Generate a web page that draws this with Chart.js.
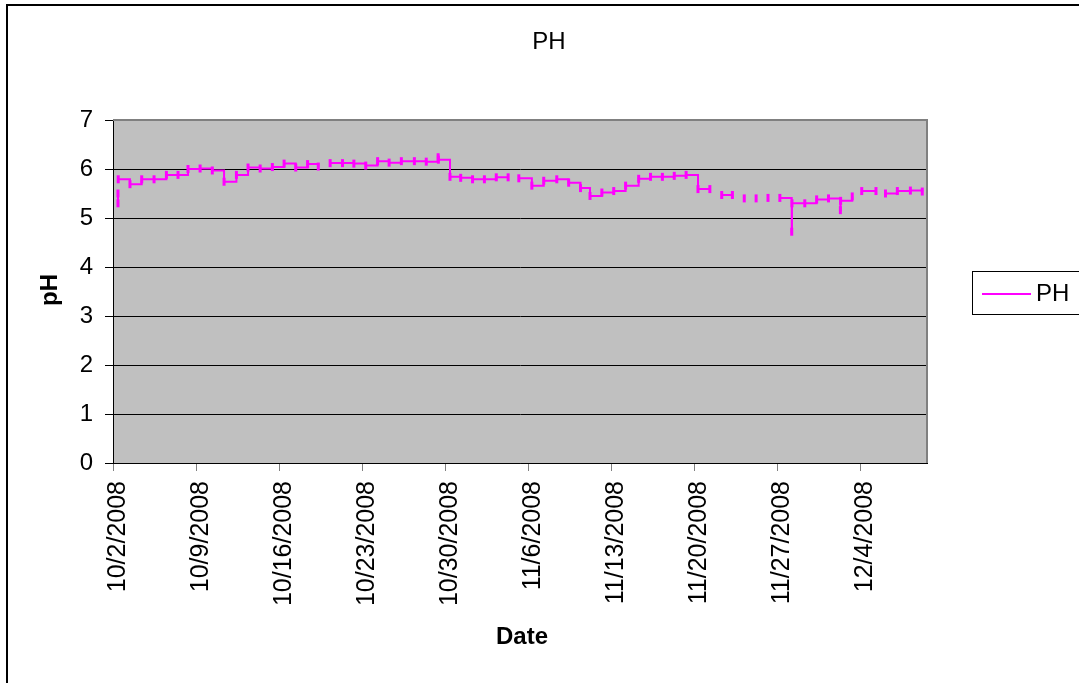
<!DOCTYPE html>
<html>
<head>
<meta charset="utf-8">
<title>PH</title>
<script src="https://cdn.jsdelivr.net/npm/chart.js@4"></script>
<style>
  html, body { margin:0; padding:0; background:#fff; }
  #wrap { position:relative; width:1079px; height:683px; overflow:hidden; }
  canvas { position:absolute; left:0; top:0; }
</style>
</head>
<body>
<div id="wrap"><canvas id="ch" width="1079" height="683"></canvas></div>
<script>
// readings: day offset from 10/2/2008, pH (null = gap in record)
const days = [0.42, 0.42, 0.43, 0.44, 1.43, 2.42, 3.46, 4.50, 5.48, 6.32, 7.34, 8.37, 9.36, 10.40, 11.38, 12.40, 13.43,
  14.42, 15.40, 16.40, 17.30, 17.35, 18.30, 19.34, 20.30, 21.30, 22.30, 23.27, 24.30, 25.40, 26.40, 27.40, 27.42,
  28.40, 29.30, 30.30, 31.30, 32.30, 33.30, 33.35, 34.20, 35.30, 36.30, 37.40, 38.40, 39.40, 40.20, 41.20, 42.20,
  43.20, 44.30, 45.30, 46.30, 47.30, 48.30, 49.30, 50.30, 50.35, 51.30, 52.20, 52.25, 53.20, 53.25, 54.20, 54.25,
  55.20, 55.25, 56.20, 57.20, 57.22, 58.30, 59.30, 60.30, 61.30, 61.32, 62.30, 62.35, 63.10, 64.30, 64.35,
  65.10, 66.10, 67.20, 68.20];
const ph = [5.50, 5.30, null, 5.79, 5.69, 5.79, 5.79, 5.88, 5.88, 6.00, 6.01, 5.97, 5.74, 5.88, 6.03, 6.01, 6.04,
  6.11, 6.03, 6.10, 6.05, null, 6.12, 6.12, 6.11, 6.07, 6.16, 6.13, 6.16, 6.16, 6.15, 6.24, 6.19,
  5.84, 5.82, 5.79, 5.79, 5.83, 5.83, null, 5.81, 5.66, 5.76, 5.79, 5.72, 5.61, 5.45, 5.52, 5.55,
  5.66, 5.80, 5.84, 5.84, 5.86, 5.88, 5.59, 5.59, null, 5.47, 5.47, null, 5.40, null, 5.40, null,
  5.41, null, 5.41, 4.72, 5.30, 5.30, 5.38, 5.40, 5.16, 5.35, 5.44, null, 5.55, 5.55, null,
  5.50, 5.55, 5.56, 5.54];

const tickDays = [0, 7, 14, 21, 28, 35, 42, 49, 56, 63];
const tickLabels = ['10/2/2008', '10/9/2008', '10/16/2008', '10/23/2008', '10/30/2008',
  '11/6/2008', '11/13/2008', '11/20/2008', '11/27/2008', '12/4/2008'];
const yTicks = [0, 1, 2, 3, 4, 5, 6, 7];

const FONT = '"Liberation Sans", Arial, sans-serif';

// plot frame, titles, legend and outer border (Excel look)
const frame = {
  id:'frame',
  beforeDraw(chart){
    const {ctx, chartArea:a} = chart;
    ctx.save();
    ctx.fillStyle = '#c0c0c0';
    ctx.fillRect(a.left, a.top, a.right-a.left, a.bottom-a.top);
    ctx.restore();
  },
  afterDraw(chart){
    const {ctx, chartArea:a} = chart;
    ctx.save();
    ctx.strokeStyle = '#808080'; ctx.lineWidth = 2;
    ctx.beginPath();
    ctx.moveTo(a.left, a.top); ctx.lineTo(a.right, a.top); ctx.lineTo(a.right, a.bottom);
    ctx.stroke();

    ctx.fillStyle = '#000'; ctx.textAlign = 'center'; ctx.textBaseline = 'middle';
    ctx.font = '24px ' + FONT;
    ctx.fillText('PH', 549, 42);
    ctx.font = 'bold 24px ' + FONT;
    ctx.fillText('Date', 522, 637);
    ctx.translate(50, 290); ctx.rotate(-Math.PI/2);
    ctx.fillText('pH', 0, 0);
    ctx.setTransform(1,0,0,1,0,0);

    // legend
    ctx.strokeStyle = '#000'; ctx.lineWidth = 1;
    ctx.strokeRect(972.5, 271.5, 140, 43);
    ctx.strokeStyle = '#ff00ff'; ctx.lineWidth = 2;
    ctx.beginPath(); ctx.moveTo(982, 294); ctx.lineTo(1031, 294); ctx.stroke();
    ctx.textAlign = 'left'; ctx.font = '24px ' + FONT;
    ctx.fillText('PH', 1036, 294);

    // chart area border
    ctx.strokeStyle = '#000'; ctx.lineWidth = 2;
    ctx.beginPath(); ctx.moveTo(7, 700); ctx.lineTo(7, 5); ctx.lineTo(1100, 5); ctx.stroke();
    ctx.restore();
  }
};

new Chart(document.getElementById('ch'), {
  type:'line',
  data:{ datasets:[{
    label:'PH',
    data: days.map((d,i) => ({x:d, y:ph[i]})),
    borderColor:'#ff00ff', borderWidth:2,
    stepped:'before', spanGaps:false,
    pointStyle:'line', pointRotation:90, pointRadius:4, pointBorderWidth:3,
    pointBorderColor:'#ff00ff', pointBackgroundColor:'#ff00ff'
  }]},
  options:{
    responsive:false, animation:false, devicePixelRatio:1,
    layout:{ padding:{ left:0, top:120, right:152, bottom:0 } },
    plugins:{ legend:{display:false}, title:{display:false}, tooltip:{enabled:false} },
    scales:{
      x:{
        type:'linear', min:0, max:68.6,
        afterFit: s => { s.height = 220; },
        afterBuildTicks: s => { s.ticks = tickDays.map(v => ({value:v})); },
        grid:{ drawOnChartArea:false, drawTicks:true, tickLength:8, tickColor:'#808080' },
        border:{ color:'#000', width:1 },
        ticks:{ autoSkip:false, minRotation:90, maxRotation:90, padding:10, labelOffset:5, color:'#000',
          font:{ family:FONT, size:25 },
          callback:(v, i) => tickLabels[i] }
      },
      y:{
        min:0, max:7,
        afterFit: s => { s.width = 113; },
        afterBuildTicks: s => { s.ticks = yTicks.map(v => ({value:v})); },
        grid:{ color:'#000', lineWidth:1, tickLength:8, tickColor:'#000' },
        border:{ color:'#000', width:1 },
        ticks:{ padding:12, color:'#000', font:{ family:FONT, size:24 } }
      }
    }
  },
  plugins:[frame]
});
</script>
</body>
</html>
